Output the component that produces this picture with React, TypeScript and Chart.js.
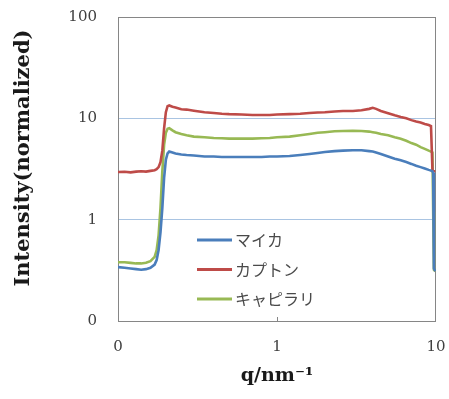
import React, { useEffect, useRef } from 'react';
import { Chart, registerables } from 'chart.js';

Chart.register(...registerables);

// q / nm^-1 (shared sampling for all series)
const qValues = [
  0.1, 0.11, 0.12, 0.13, 0.14, 0.15, 0.16, 0.17, 0.175, 0.18,
  0.185, 0.19, 0.195, 0.2, 0.205, 0.21, 0.22, 0.23, 0.25, 0.27,
  0.3, 0.35, 0.4, 0.45, 0.5, 0.6, 0.7, 0.8, 0.9, 1.0,
  1.2, 1.4, 1.6, 1.8, 2.0, 2.3, 2.6, 3.0, 3.4, 3.8,
  4.0, 4.2, 4.5, 5.0, 5.5, 6.0, 6.5, 7.0, 7.5, 8.0,
  8.5, 9.0, 9.3, 9.5, 9.6, 9.7, 9.9,
];

// マイカ
const micaValues = [
  0.34, 0.335, 0.33, 0.325, 0.32, 0.325, 0.335, 0.36, 0.4, 0.5,
  0.75, 1.3, 2.6, 3.9, 4.5, 4.7, 4.6, 4.5, 4.4, 4.35,
  4.3, 4.2, 4.2, 4.15, 4.15, 4.15, 4.15, 4.15, 4.2, 4.2,
  4.25, 4.35, 4.45, 4.55, 4.65, 4.75, 4.8, 4.85, 4.85, 4.75,
  4.7, 4.6, 4.45, 4.2, 4.0, 3.85, 3.7, 3.55, 3.4, 3.3,
  3.2, 3.1, 3.05, 3.0, 2.9, 0.33, 0.31,
];

// カプトン
const kaptonValues = [
  2.95, 2.97, 2.93, 2.98, 3.0, 2.98, 3.03, 3.08, 3.15, 3.3,
  3.7, 4.8, 8.0, 11.5, 13.2, 13.4, 13.0, 12.8, 12.3, 12.2,
  11.9, 11.5, 11.3, 11.1, 11.0, 10.9, 10.8, 10.8, 10.8, 10.9,
  11.0, 11.1, 11.3, 11.4, 11.5, 11.7, 11.8, 11.8, 12.0, 12.4,
  12.7, 12.4, 11.8, 11.2, 10.7, 10.3, 10.0, 9.6, 9.3, 9.1,
  8.8, 8.6, 8.4, 3.1, 3.0, 3.0, 3.0,
];

// キャピラリ
const capillaryValues = [
  0.38, 0.38, 0.375, 0.37, 0.37, 0.375, 0.39, 0.43, 0.5, 0.7,
  1.3, 3.0, 5.5, 7.2, 7.9, 8.0, 7.6, 7.3, 7.0, 6.8,
  6.6, 6.5, 6.4, 6.35, 6.3, 6.3, 6.3, 6.35, 6.4, 6.5,
  6.6, 6.8, 7.0, 7.2, 7.3, 7.45, 7.5, 7.55, 7.5, 7.4,
  7.3, 7.2, 7.0, 6.8, 6.5, 6.3, 6.0, 5.7, 5.5, 5.2,
  5.0, 4.8, 4.7, 4.6, 1.2, 0.32, 0.31,
];

const seriesNames = ['マイカ', 'カプトン', 'キャピラリ'];

const xTickValues = [0.1, 1, 10];
const xTickLabels = ['0', '1', '10'];
const yTickValues = [0.1, 1, 10, 100];
const yTickLabels = ['0', '1', '10', '100'];

const xTitle = 'q/nm⁻¹';
const yTitle = '   Intensity(normalized)';

const toPoints = (vals: number[]) => qValues.map((q, i) => ({ x: q, y: vals[i] }));

const frameAndLegend = {
  id: 'frameAndLegend',
  beforeDatasetsDraw(chart: any) {
    const { ctx, chartArea } = chart;
    ctx.save();
    ctx.strokeStyle = '#868686';
    ctx.lineWidth = 1;
    ctx.strokeRect(
      Math.round(chartArea.left) + 0.5,
      Math.round(chartArea.top) + 0.5,
      Math.round(chartArea.right - chartArea.left) - 1,
      Math.round(chartArea.bottom - chartArea.top)
    );
    // small inner tick at q = 1 on the bottom axis
    const xs = chart.scales.x;
    const px = Math.round(xs.getPixelForValue(1)) + 0.5;
    ctx.beginPath();
    ctx.moveTo(px, chartArea.bottom);
    ctx.lineTo(px, chartArea.bottom - 4);
    ctx.stroke();
    ctx.restore();
  },
  afterDatasetsDraw(chart: any) {
    const { ctx, chartArea } = chart;
    const x0 = chartArea.left + 79;
    const lineLen = 35;
    const y0 = chartArea.top + 223;
    const gap = 29.5;
    ctx.save();
    ctx.font = '16px "Noto Sans CJK JP"';
    ctx.textBaseline = 'middle';
    ctx.textAlign = 'left';
    chart.data.datasets.forEach((ds: any, i: number) => {
      const y = y0 + i * gap;
      ctx.strokeStyle = ds.borderColor;
      ctx.lineWidth = 3;
      ctx.beginPath();
      ctx.moveTo(x0, y);
      ctx.lineTo(x0 + lineLen, y);
      ctx.stroke();
      ctx.fillStyle = '#4a4a4a';
      ctx.fillText(ds.label, x0 + lineLen + 3, y);
    });
    ctx.restore();
  },
};

export default function App() {
  const canvasRef = useRef<HTMLCanvasElement | null>(null);

  useEffect(() => {
    document.body.style.margin = '0';
    const canvas = canvasRef.current;
    if (!canvas) return;
    const chart = new Chart(canvas, {
      type: 'line',
      data: {
        datasets: [
          { label: seriesNames[0], data: toPoints(micaValues), borderColor: '#4a7ebb', backgroundColor: '#4a7ebb' },
          { label: seriesNames[1], data: toPoints(kaptonValues), borderColor: '#be4b48', backgroundColor: '#be4b48' },
          { label: seriesNames[2], data: toPoints(capillaryValues), borderColor: '#98b954', backgroundColor: '#98b954' },
        ],
      },
      options: {
        responsive: false,
        animation: false,
        devicePixelRatio: 1,
        elements: {
          point: { radius: 0 },
          line: { borderWidth: 2.6, tension: 0 },
        },
        layout: { padding: { top: 17, right: 13, left: 0, bottom: 0 } },
        plugins: {
          legend: { display: false },
          tooltip: { enabled: false },
        },
        scales: {
          x: {
            type: 'logarithmic',
            min: 0.1,
            max: 10,
            afterBuildTicks: (scale: any) => {
              scale.ticks = xTickValues.map((v) => ({ value: v }));
            },
            afterFit: (scale: any) => {
              scale.height = 78;
            },
            grid: {
              display: true,
              drawOnChartArea: false,
              drawTicks: true,
              tickLength: 15,
              color: 'rgba(0,0,0,0)',
              tickColor: 'rgba(0,0,0,0)',
            },
            border: { display: false },
            ticks: {
              autoSkip: false,
              maxRotation: 0,
              padding: 2,
              color: '#404040',
              font: { family: '"DejaVu Serif"', size: 15 },
              callback: (_v: any, i: number) => xTickLabels[i],
            },
            title: {
              display: true,
              text: xTitle,
              color: '#1a1a1a',
              font: { family: '"DejaVu Serif"', size: 19, weight: 'bold' },
              padding: { top: 0, bottom: 12 },
            },
          },
          y: {
            type: 'logarithmic',
            min: 0.1,
            max: 100,
            afterBuildTicks: (scale: any) => {
              scale.ticks = yTickValues.map((v) => ({ value: v }));
            },
            afterFit: (scale: any) => {
              scale.width = 118;
            },
            grid: {
              color: '#a9c4e2',
              lineWidth: 1,
              drawTicks: true,
              tickLength: 19,
              tickColor: 'rgba(0,0,0,0)',
            },
            border: { display: false },
            ticks: {
              autoSkip: false,
              padding: 2,
              color: '#404040',
              font: { family: '"DejaVu Serif"', size: 15 },
              callback: (_v: any, i: number) => yTickLabels[i],
            },
            title: {
              display: true,
              text: yTitle,
              color: '#1a1a1a',
              font: { family: '"DejaVu Serif"', size: 21, weight: 'bold' },
              padding: { top: 11, bottom: 0 },
            },
          },
        },
      } as any,
      plugins: [frameAndLegend],
    });
    return () => chart.destroy();
  }, []);

  return (
    <div style={{ width: 449, height: 399, background: '#ffffff' }}>
      <canvas ref={canvasRef} width={449} height={399} />
    </div>
  );
}
